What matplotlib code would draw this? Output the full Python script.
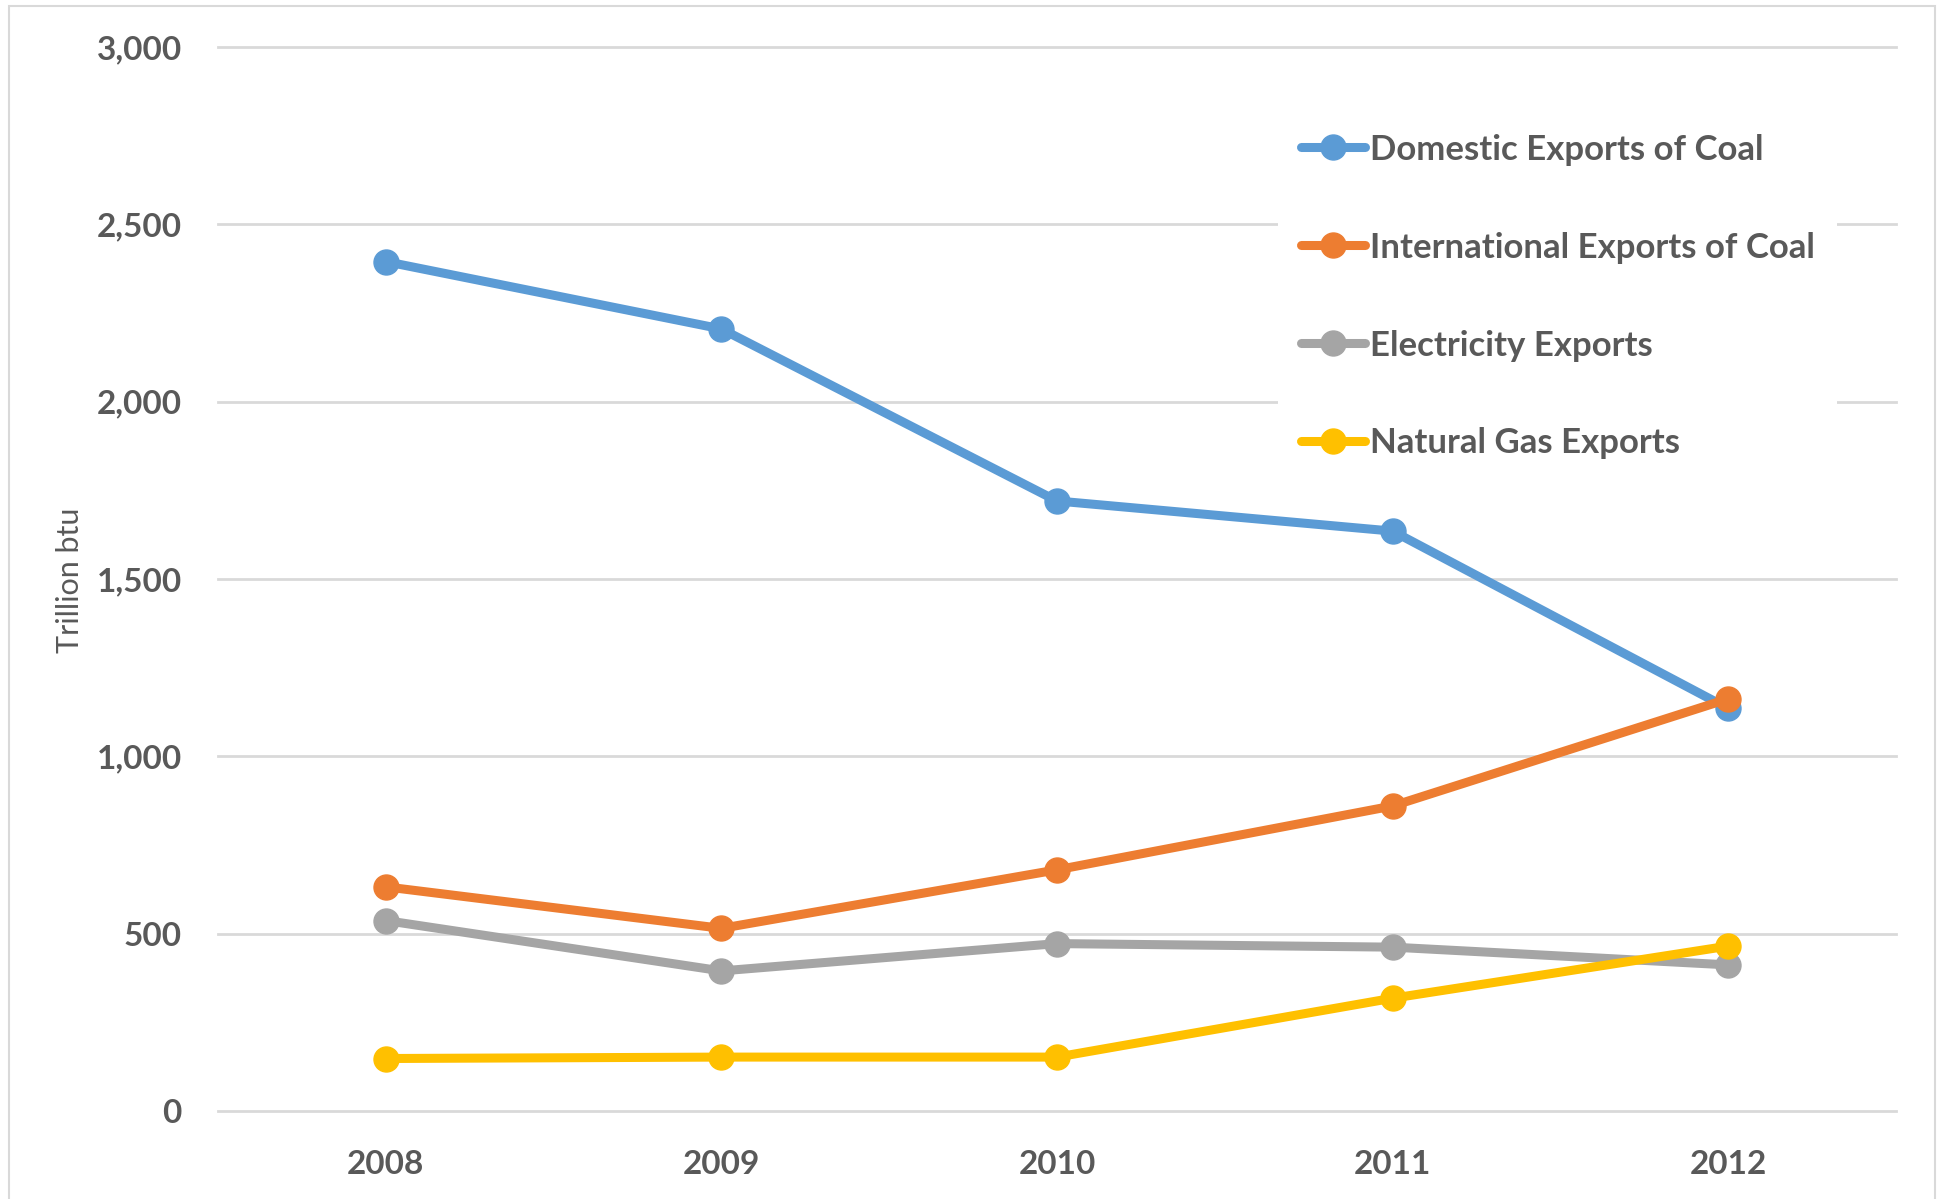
import numpy as np
import matplotlib
matplotlib.use("Agg")
import matplotlib.pyplot as plt
from matplotlib import font_manager
from matplotlib.patches import Rectangle

# data (trillion btu)
years = ["2008", "2009", "2010", "2011", "2012"]
domestic_coal = [2395, 2205, 1720, 1635, 1135]
intl_coal = [632, 515, 680, 860, 1162]
electricity = [537, 395, 472, 462, 412]
natural_gas = [148, 152, 152, 318, 465]

series_names = ["Domestic Exports of Coal", "International Exports of Coal",
                "Electricity Exports", "Natural Gas Exports"]
series_colors = ["#5b9bd5", "#ed7d31", "#a5a5a5", "#ffc000"]
y_ticks = [0, 500, 1000, 1500, 2000, 2500, 3000]

# calibri stand-in
names = {f.name for f in font_manager.fontManager.ttflist}
bold_font = "Liberation Sans Narrow" if "Liberation Sans Narrow" in names else "Lato"
txt_col = "#595959"
grid_col = "#d9d9d9"

W, H = 1937, 1199
fig = plt.figure(figsize=(W / 100, H / 100), dpi=100)

# light outer border like the excel chart area
fig.patches.append(Rectangle((9 / W, -0.02), (W - 11) / W, 1.02 - 6 / H,
                             transform=fig.transFigure, fill=False,
                             edgecolor=grid_col, linewidth=1.5))

ax = fig.add_axes([218 / W, 1 - 1111 / H, 1678 / W, 1064 / H])
x = np.arange(len(years))

all_series = [domestic_coal, intl_coal, electricity, natural_gas]
for vals, name, col in zip(all_series, series_names, series_colors):
    ax.plot(x, vals, color=col, lw=6.5, marker="o", ms=18,
            solid_capstyle="round", label=name, zorder=3)

ax.set_xlim(-0.5, len(years) - 0.5)
ax.set_ylim(0, 3000)
ax.set_xticks(x)
ax.set_xticklabels(years)
ax.set_yticks(y_ticks)
ax.set_yticklabels([f"{v:,}" for v in y_ticks])

for s in ax.spines.values():
    s.set_visible(False)
ax.tick_params(length=0, labelsize=24, labelcolor=txt_col)
ax.tick_params(axis="y", pad=26)
ax.tick_params(axis="x", pad=28)
for lab in ax.get_xticklabels() + ax.get_yticklabels():
    lab.set_fontfamily(bold_font)
    lab.set_fontweight("bold")

ax.grid(axis="y", color=grid_col, lw=2)
ax.set_axisbelow(True)
for gl in ax.get_ygridlines():
    gl.set_clip_on(False)

fig.text(70 / W, 1 - 580 / H, "Trillion btu", rotation=90, ha="center",
         va="center", fontsize=22, color=txt_col, family="Lato")

leg = ax.legend(loc="upper left", bbox_to_anchor=(1278 / W, 1 - 111 / H),
                bbox_transform=fig.transFigure, borderaxespad=0,
                frameon=True, facecolor="white", edgecolor="none",
                framealpha=1, handlelength=1.85, handletextpad=0.15,
                labelspacing=1.9, borderpad=0.65,
                prop={"family": bold_font, "weight": "bold", "size": 25})
for t in leg.get_texts():
    t.set_color(txt_col)
leg.set_zorder(5)

fig.savefig("out.png", dpi=100, facecolor="white")
